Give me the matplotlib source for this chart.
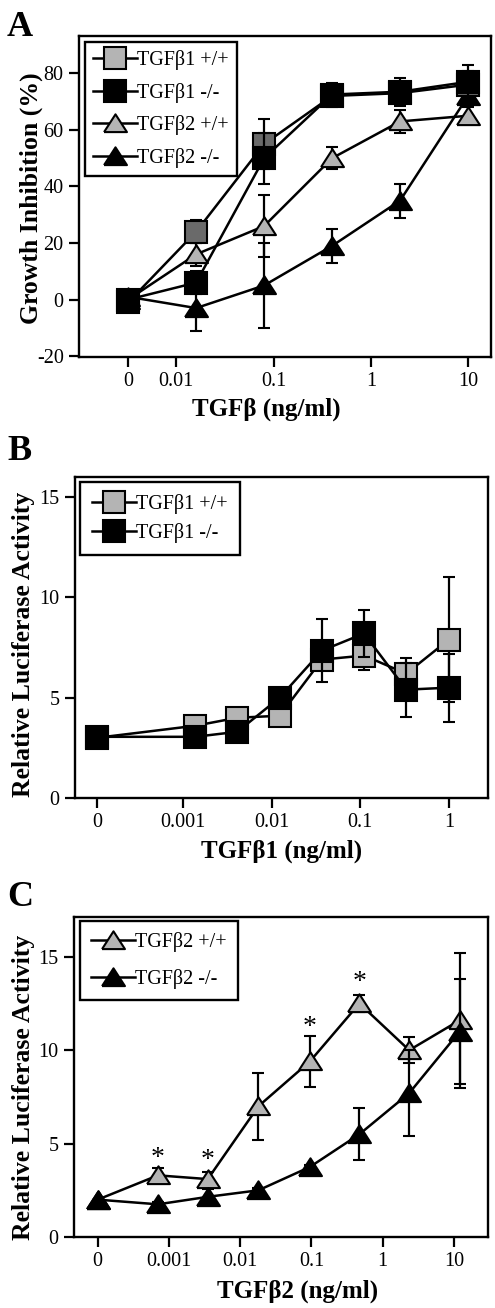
import numpy as np
import matplotlib
matplotlib.use("Agg")
import matplotlib.pyplot as plt
from matplotlib.lines import Line2D

plt.rcParams['font.family'] = ['Liberation Serif', 'DejaVu Serif']
plt.rcParams['axes.linewidth'] = 1.7
plt.rcParams['axes.unicode_minus'] = False

# -- Panel A: growth inhibition --
conc_a = [0, 0.016, 0.08, 0.4, 2, 10]
b1_wt_a = [-1, 24, 55, 72, 73, 76]
b1_wt_a_err = [1, 4, 9, 4, 4, 5]
b1_ko_a = [0, 6, 50, 72.5, 73.5, 77]
b1_ko_a_err = [1, 4, 9, 4, 5, 6]
b2_wt_a = [0, 16, 26, 50, 63, 65]
b2_wt_a_err = [1, 4, 11, 4, 4, 3]
b2_ko_a = [1, -3, 5, 19, 35, 72]
b2_ko_a_err = [1, 8, 15, 6, 6, 3]
ticks_a = [0, 0.01, 0.1, 1, 10]
ticklabels_a = ["0", "0.01", "0.1", "1", "10"]

# -- Panel B: luciferase, TGFb1 --
conc_b = [0, 0.00137, 0.0041, 0.0123, 0.037, 0.11, 0.33, 1]
b1_wt_b = [3.0, 3.6, 4.0, 4.1, 6.9, 7.1, 6.2, 7.9]
b1_wt_b_err = [0, 0.2, 0.2, 0.2, 0.5, 0.7, 0.8, 3.1]
b1_ko_b = [3.05, 3.05, 3.3, 5.0, 7.35, 8.2, 5.4, 5.5]
b1_ko_b_err = [0, 0, 0.1, 0.2, 1.55, 1.15, 1.35, 1.7]
ticks_b = [0, 0.001, 0.01, 0.1, 1]
ticklabels_b = ["0", "0.001", "0.01", "0.1", "1"]

# -- Panel C: luciferase, TGFb2 --
conc_c = [0, 0.0007, 0.0035, 0.018, 0.095, 0.47, 2.35, 12]
b2_wt_c = [2.0, 3.3, 3.1, 7.0, 9.4, 12.5, 10.0, 11.6]
b2_wt_c_err = [0, 0.4, 0.4, 1.8, 1.35, 0.45, 0.7, 3.6]
b2_ko_c = [2.0, 1.75, 2.15, 2.5, 3.75, 5.5, 7.7, 11.0]
b2_ko_c_err = [0, 0.1, 0.4, 0.1, 0.1, 1.4, 2.3, 2.8]
ticks_c = [0, 0.001, 0.01, 0.1, 1, 10]
ticklabels_c = ["0", "0.001", "0.01", "0.1", "1", "10"]
star_x = [0.0007, 0.0035, 0.095, 0.47]
star_y = [4.5, 4.4, 11.5, 13.9]

LIGHT = '#b4b4b4'
DARK = '#6a6a6a'
TRI = [(-1, -0.75), (1, -0.75), (0, 0.8), (-1, -0.75)]
SQ_MS = 15.5
TRI_MS = 16.5


def xpos(conc, zero):
    c = np.array(conc, dtype=float)
    return np.where(c == 0, zero, c)


def series(ax, x, y, err, marker, face, ms, z):
    ax.errorbar(x, y, yerr=err, fmt='-', color='black', lw=1.8, marker=marker,
                ms=ms, mfc=face, mec='black', mew=1.5, ecolor='black',
                elinewidth=1.6, capsize=4.3, capthick=1.6, zorder=z)


def handle(marker, face, ms):
    return Line2D([], [], color='black', lw=1.8, marker=marker, ms=ms,
                  mfc=face, mec='black', mew=1.5)


def style(ax, ticks, labels, zero, xlim, ylim, yticks):
    ax.set_xscale('log')
    ax.set_xlim(*xlim)
    ax.set_ylim(*ylim)
    ax.set_xticks(xpos(ticks, zero))
    ax.set_xticklabels(labels)
    ax.xaxis.set_minor_locator(matplotlib.ticker.NullLocator())
    ax.set_yticks(yticks)
    ax.tick_params(direction='out', length=7, width=1.6, labelsize=14.5, pad=4)


def legend(ax, handles, labels, anchor, spacing, bpad):
    leg = ax.legend(handles, labels, loc='upper left', bbox_to_anchor=anchor,
                    borderaxespad=0, fontsize=14.5, handlelength=2.2,
                    handletextpad=0.0, labelspacing=spacing, borderpad=bpad,
                    fancybox=False, edgecolor='black', framealpha=1)
    leg.get_frame().set_linewidth(1.7)


fig = plt.figure(figsize=(4.95, 13.08), dpi=100)

# Panel A
zero_a = 0.0032
ax = fig.add_axes([79 / 495, 1 - 357 / 1308, 412 / 495, 321 / 1308])
series(ax, xpos(conc_a, zero_a), b2_wt_a, b2_wt_a_err, TRI, LIGHT, TRI_MS, 2)
series(ax, xpos(conc_a, zero_a), b2_ko_a, b2_ko_a_err, TRI, 'black', TRI_MS, 3)
series(ax, xpos(conc_a, zero_a), b1_wt_a, b1_wt_a_err, 's', DARK, SQ_MS, 4)
series(ax, xpos(conc_a, zero_a), b1_ko_a, b1_ko_a_err, 's', 'black', SQ_MS, 5)
style(ax, ticks_a, ticklabels_a, zero_a, (0.001, 17.2), (-20.3, 93.2), [-20, 0, 20, 40, 60, 80])
legend(ax, [handle('s', LIGHT, SQ_MS), handle('s', 'black', SQ_MS),
            handle(TRI, LIGHT, TRI_MS), handle(TRI, 'black', TRI_MS)],
       ["TGF\u03b21 +/+", "TGF\u03b21 -/-", "TGF\u03b22 +/+", "TGF\u03b22 -/-"],
       (0.0146, 0.981), 0.62, 0.4)
ax.set_xlabel("TGF\u03b2 (ng/ml)", fontsize=18, fontweight='bold')
ax.xaxis.set_label_coords(0.454, -0.125)
ax.set_ylabel("Growth Inhibition (%)", fontsize=18.5, fontweight='bold')
ax.yaxis.set_label_coords(-0.088, 0.495)
fig.text(20 / 495, 1 - 27 / 1308, "A", fontsize=26, fontweight='bold', ha='center', va='center')

# Panel B
zero_b = 0.000107
ax = fig.add_axes([75 / 495, 1 - 798 / 1308, 413 / 495, 321 / 1308])
series(ax, xpos(conc_b, zero_b), b1_wt_b, b1_wt_b_err, 's', LIGHT, SQ_MS, 2)
series(ax, xpos(conc_b, zero_b), b1_ko_b, b1_ko_b_err, 's', 'black', SQ_MS, 3)
style(ax, ticks_b, ticklabels_b, zero_b, (10 ** -4.218, 10 ** 0.44), (0, 16), [0, 5, 10, 15])
legend(ax, [handle('s', LIGHT, SQ_MS), handle('s', 'black', SQ_MS)],
       ["TGF\u03b21 +/+", "TGF\u03b21 -/-"], (0.012, 0.984), 0.45, 0.6)
ax.set_xlabel("TGF\u03b21 (ng/ml)", fontsize=18, fontweight='bold')
ax.xaxis.set_label_coords(0.499, -0.131)
ax.set_ylabel("Relative Luciferase Activity", fontsize=18.5, fontweight='bold')
ax.yaxis.set_label_coords(-0.097, 0.48)
fig.text(20 / 495, 1 - 452 / 1308, "B", fontsize=26, fontweight='bold', ha='center', va='center')

# Panel C
zero_c = 0.0001
ax = fig.add_axes([74 / 495, 1 - 1237 / 1308, 414 / 495, 320 / 1308])
series(ax, xpos(conc_c, zero_c), b2_wt_c, b2_wt_c_err, TRI, LIGHT, TRI_MS, 2)
series(ax, xpos(conc_c, zero_c), b2_ko_c, b2_ko_c_err, TRI, 'black', TRI_MS, 3)
style(ax, ticks_c, ticklabels_c, zero_c, (10 ** -4.333, 10 ** 1.477), (0, 17.13), [0, 5, 10, 15])
for sx, sy in zip(star_x, star_y):
    ax.text(sx, sy - 0.3, "*", fontsize=20, ha='center', va='center')
legend(ax, [handle(TRI, LIGHT, TRI_MS), handle(TRI, 'black', TRI_MS)],
       ["TGF\u03b22 +/+", "TGF\u03b22 -/-"], (0.014, 0.988), 0.85, 0.55)
ax.set_xlabel("TGF\u03b22 (ng/ml)", fontsize=18, fontweight='bold')
ax.xaxis.set_label_coords(0.539, -0.132)
ax.set_ylabel("Relative Luciferase Activity", fontsize=18.5, fontweight='bold')
ax.yaxis.set_label_coords(-0.094, 0.469)
fig.text(20 / 495, 1 - 897 / 1308, "C", fontsize=26, fontweight='bold', ha='center', va='center')

fig.savefig("out.png", dpi=100)
